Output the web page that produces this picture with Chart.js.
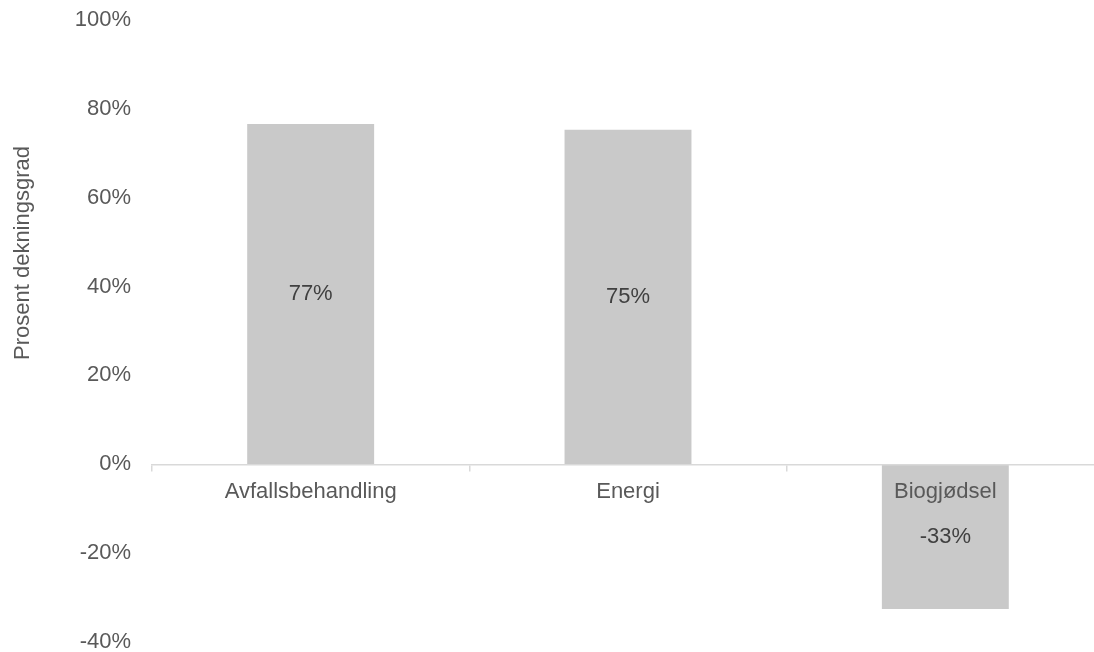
<!DOCTYPE html>
<html>
<head>
<meta charset="utf-8">
<script src="https://cdn.jsdelivr.net/npm/chart.js@4/dist/chart.umd.min.js"></script>
<style>
    html, body { margin: 0; padding: 0; background: #fff; overflow: hidden; }
    #wrap { width: 1094px; height: 652px; overflow: hidden; }
</style>
</head>
<body>
<div id="wrap">
    <canvas id="chart" width="1104" height="652"></canvas>
</div>
<script>
// Chart data
const categories = ['Avfallsbehandling', 'Energi', 'Biogjødsel'];
const coverage = [0.766, 0.753, -0.326];
const yTicks = [-0.4, -0.2, 0, 0.2, 0.4, 0.6, 0.8, 1.0];
const yTitle = 'Prosent dekningsgrad';

const FONT = "'Liberation Sans', Arial, sans-serif";
const pct = v => Math.round(v * 100) + '%';

// Value labels in the middle of each bar
const barLabels = {
    id: 'barLabels',
    afterDatasetsDraw(chart) {
        const ctx = chart.ctx;
        const meta = chart.getDatasetMeta(0);
        ctx.save();
        ctx.font = '22px ' + FONT;
        ctx.fillStyle = '#404040';
        ctx.textAlign = 'center';
        ctx.textBaseline = 'middle';
        meta.data.forEach((bar, i) => {
            const c = bar.getCenterPoint();
            ctx.fillText(pct(coverage[i]), c.x, c.y);
        });
        ctx.restore();
    }
};

// Rotated y-axis title
const yAxisTitle = {
    id: 'yAxisTitle',
    afterDraw(chart) {
        const ctx = chart.ctx;
        ctx.save();
        ctx.translate(23, 253);
        ctx.rotate(-Math.PI / 2);
        ctx.font = '22px ' + FONT;
        ctx.fillStyle = '#595959';
        ctx.textAlign = 'center';
        ctx.textBaseline = 'middle';
        ctx.fillText(yTitle, 0, 0);
        ctx.restore();
    }
};

new Chart(document.getElementById('chart').getContext('2d'), {
    type: 'bar',
    data: {
        labels: categories,
        datasets: [{
            data: coverage,
            backgroundColor: '#c9c9c9',
            borderWidth: 0,
            barPercentage: 0.4,
            categoryPercentage: 1.0
        }]
    },
    options: {
        responsive: false,
        animation: false,
        layout: { padding: { top: 20, bottom: 10, left: 0, right: 0 } },
        plugins: {
            legend: { display: false },
            tooltip: { enabled: false }
        },
        scales: {
            x: {
                position: { y: 0 },
                afterFit: scale => { scale.height = 0; },
                grid: {
                    display: true,
                    offset: true,
                    drawOnChartArea: false,
                    drawTicks: true,
                    tickLength: 6,
                    color: '#d9d9d9',
                    lineWidth: 1.5
                },
                border: { display: true, color: '#d9d9d9', width: 1.5, z: 1 },
                ticks: {
                    z: 1,
                    color: '#595959',
                    font: { family: FONT, size: 22 },
                    padding: 8,
                    autoSkip: false,
                    maxRotation: 0
                }
            },
            y: {
                min: -0.4,
                max: 1.0,
                afterBuildTicks: scale => {
                    scale.ticks = yTicks.map(v => ({ value: v }));
                },
                afterFit: scale => {
                    scale.width = 152;
                    scale.paddingTop = 0;
                    scale.paddingBottom = 0;
                },
                grid: { display: false, drawTicks: false },
                border: { display: false },
                ticks: {
                    color: '#595959',
                    font: { family: FONT, size: 22 },
                    padding: 21,
                    callback: v => pct(v)
                }
            }
        }
    },
    plugins: [barLabels, yAxisTitle]
});
</script>
</body>
</html>
